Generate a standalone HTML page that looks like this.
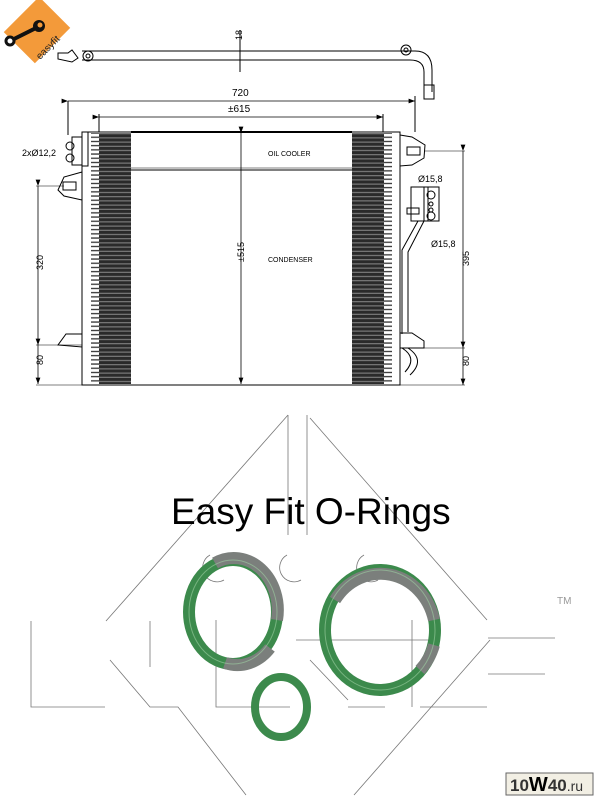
<!DOCTYPE html>
<html><head><meta charset="utf-8"><style>
html,body{margin:0;padding:0;background:#fff;width:600px;height:797px;overflow:hidden}
svg{display:block}
text{font-family:"Liberation Sans",sans-serif}
</style></head><body>
<svg width="600" height="797" viewBox="0 0 600 797" xmlns="http://www.w3.org/2000/svg">
<defs>
<pattern id="fin" width="6" height="4.2" patternUnits="userSpaceOnUse">
<rect width="6" height="4.2" fill="#2a2a2a"/><rect y="3" width="6" height="1" fill="#8a8a8a"/>
</pattern>
<pattern id="teeth" width="8" height="4.2" patternUnits="userSpaceOnUse">
<rect x="0" y="2.2" width="8" height="1.3" fill="#333"/>
</pattern>
<marker id="ar" markerWidth="8" markerHeight="6" refX="8" refY="3" orient="auto"><path d="M0,0 L8,3 L0,6 z" fill="#000"/></marker>
</defs>
<g stroke="#000" fill="none" stroke-width="1">
<g transform="translate(37,30) rotate(-45)"><rect x="-25" y="-22" width="50" height="44" fill="#f39a3a" stroke="none"/></g>
<g stroke="#111" stroke-width="4" stroke-linecap="round"><line x1="12" y1="40" x2="36" y2="28"/></g>
<circle cx="10" cy="41" r="4" fill="#fff" stroke="#111" stroke-width="3"/>
<circle cx="39" cy="26" r="6" fill="#111" stroke="none"/><circle cx="40" cy="25" r="2.5" fill="#f39a3a" stroke="none"/>
<text x="40" y="60" transform="rotate(-45 40 60)" font-size="10" fill="#222" stroke="none">easyfit</text>
<line x1="82" y1="51" x2="415" y2="51"/><line x1="82" y1="60" x2="410" y2="60"/>
<path d="M415,51 Q432,51 432,70 L432,92 M410,60 Q424,60 424,72 L424,92"/>
<rect x="424" y="85" width="10" height="14"/>
<path d="M58,53 L68,53 L72,50 L78,58 L72,62 L58,59 z"/>
<circle cx="88" cy="56" r="5"/><circle cx="88" cy="56" r="2"/>
<circle cx="406" cy="50" r="5"/><circle cx="406" cy="50" r="2"/>
<line x1="240" y1="30" x2="240" y2="72"/>
<text x="238" y="44" font-size="9" fill="#000" stroke="none" transform="rotate(-90 238 40)">18</text>
<line x1="68" y1="101" x2="68" y2="135"/><line x1="68" y1="101" x2="415" y2="101" marker-start="url(#ar)" marker-end="url(#ar)" stroke-width=".8"/>
<line x1="415" y1="96" x2="415" y2="132"/>
<text x="232" y="96" font-size="10" fill="#000" stroke="none">720</text>
<line x1="99" y1="117" x2="383" y2="117" marker-start="url(#ar)" marker-end="url(#ar)" stroke-width=".8"/>
<line x1="99" y1="114" x2="99" y2="132"/><line x1="383" y1="114" x2="383" y2="132"/>
<text x="228" y="112" font-size="10" fill="#000" stroke="none">±615</text>
<rect x="82" y="132" width="318" height="253"/>
<rect x="99" y="133" width="32" height="251" fill="url(#fin)" stroke="none"/>
<rect x="352" y="133" width="32" height="251" fill="url(#fin)" stroke="none"/>
<rect x="91" y="133" width="8" height="251" fill="url(#teeth)" stroke="none"/>
<rect x="384" y="133" width="8" height="251" fill="url(#teeth)" stroke="none"/>
<line x1="131" y1="170" x2="352" y2="170"/><line x1="131" y1="168" x2="352" y2="168" stroke-width=".5"/>
<line x1="131" y1="132" x2="352" y2="132" stroke-width="2"/>
<text x="268" y="156" font-size="7" fill="#000" stroke="none">OIL COOLER</text>
<text x="268" y="262" font-size="7" fill="#000" stroke="none">CONDENSER</text>
<line x1="241" y1="133" x2="241" y2="384" marker-start="url(#ar)" marker-end="url(#ar)" stroke-width=".8"/>
<text x="238" y="268" font-size="9" fill="#000" stroke="none" transform="rotate(-90 238 262)">±515</text>
<rect x="72" y="137" width="10" height="28"/><rect x="82" y="132" width="6" height="34"/>
<circle cx="70" cy="146" r="4"/><circle cx="70" cy="158" r="4"/>
<text x="22" y="156" font-size="9" fill="#000" stroke="none">2xØ12,2</text>
<path d="M82,172 L64,177 L58,190 L64,196 L82,200 z"/><rect x="63" y="182" width="13" height="8"/>
<path d="M82,334 L66,334 L58,345 L82,347 z"/>
<line x1="38" y1="186" x2="38" y2="345" marker-start="url(#ar)" marker-end="url(#ar)" stroke-width=".8"/>
<line x1="38" y1="345" x2="38" y2="384" marker-end="url(#ar)" stroke-width=".8"/>
<line x1="36" y1="186" x2="64" y2="186" stroke-width=".6"/><line x1="36" y1="345" x2="82" y2="345" stroke-width=".6"/><line x1="36" y1="385" x2="82" y2="385" stroke-width=".6"/>
<text x="38" y="275" font-size="9" fill="#000" stroke="none" transform="rotate(-90 38 270)">320</text>
<text x="38" y="370" font-size="9" fill="#000" stroke="none" transform="rotate(-90 38 365)">80</text>
<path d="M400,135 L412,137 L425,145 L424,158 L412,165 L400,166 z"/><rect x="407" y="147" width="13" height="8"/>
<rect x="411" y="187" width="17" height="34"/><rect x="424" y="187" width="15" height="34"/>
<circle cx="431" cy="195" r="4"/><circle cx="431" cy="216" r="4"/><circle cx="431" cy="204" r="2"/><circle cx="431" cy="210" r="2"/>
<rect x="407" y="208" width="12" height="6"/>
<text x="418" y="182" font-size="9" fill="#000" stroke="none">Ø15,8</text>
<text x="431" y="247" font-size="9" fill="#000" stroke="none">Ø15,8</text>
<path d="M424,221 L408,252 L408,332 M418,221 L402,250 L402,334"/>
<path d="M400,333 L412,333 L424,341 L424,348 L400,348 z"/>
<path d="M402,348 Q418,358 405,372 M408,348 Q426,360 410,375"/>
<line x1="424" y1="151" x2="465" y2="151" stroke-width=".6"/><line x1="424" y1="348" x2="465" y2="348" stroke-width=".6"/><line x1="400" y1="385" x2="465" y2="385" stroke-width=".6"/>
<line x1="463" y1="151" x2="463" y2="348" marker-start="url(#ar)" marker-end="url(#ar)" stroke-width=".8"/>
<line x1="463" y1="348" x2="463" y2="385" marker-end="url(#ar)" stroke-width=".8"/>
<text x="463" y="272" font-size="9" fill="#000" stroke="none" transform="rotate(-90 463 266)">395</text>
<text x="463" y="372" font-size="9" fill="#000" stroke="none" transform="rotate(-90 463 366)">80</text>
</g>
<g stroke="#777" fill="none" stroke-width=".8">
<line x1="288" y1="415" x2="106" y2="621"/><line x1="288" y1="415" x2="288" y2="535"/><line x1="307" y1="415" x2="307" y2="535"/>
<line x1="310" y1="418" x2="487" y2="620"/>
<path d="M31,621 L31,707 L105,707"/><line x1="150" y1="621" x2="150" y2="667"/>
<path d="M110,660 L150,707 L178,707 L246,795"/>
<line x1="354" y1="795" x2="490" y2="640"/>
<path d="M216,620 L216,707 L290,707"/><line x1="296" y1="640" x2="430" y2="640"/>
<line x1="310" y1="660" x2="348" y2="700"/>
<path d="M348,707 L385,707 M412,620 L412,707 M420,707 L487,707"/>
<line x1="488" y1="638" x2="555" y2="638"/><line x1="488" y1="674" x2="545" y2="674"/>
<path d="M210,555 A14,14 0 0,0 224,580 M287,555 A14,14 0 0,0 301,580 M364,555 A14,14 0 0,0 378,580"/>
</g>
<text x="557" y="604" font-size="10" fill="#999">TM</text>
<text x="171" y="524" font-size="37" fill="#000">Easy Fit O-Rings</text>
<g fill="none">
<ellipse cx="233" cy="612" rx="44" ry="52" stroke="#3c8a4c" stroke-width="12"/>
<path d="M215,563 A44,52 0 0,1 277,620" stroke="#7b7f7c" stroke-width="12"/>
<path d="M270,648 A44,52 0 0,1 225,663" stroke="#7b7f7c" stroke-width="12"/>
<ellipse cx="380" cy="630" rx="55" ry="60" stroke="#3c8a4c" stroke-width="12"/>
<path d="M335,600 A55,60 0 0,1 434,620" stroke="#7b7f7c" stroke-width="12"/>
<path d="M434,645 A55,60 0 0,1 420,670" stroke="#7b7f7c" stroke-width="12"/>
<ellipse cx="281" cy="707" rx="26" ry="30" stroke="#3c8a4c" stroke-width="8"/>
<ellipse cx="233" cy="612" rx="44" ry="52" stroke="#9ed0a4" stroke-width="1" opacity=".6"/>
<ellipse cx="380" cy="630" rx="55" ry="60" stroke="#9ed0a4" stroke-width="1" opacity=".6"/>
</g>
<rect x="506" y="773" width="87" height="22" fill="#f2efe4" stroke="#666"/>
<text x="510" y="791" font-size="17" fill="#333" font-weight="bold">10<tspan fill="#000" font-size="20">W</tspan>40<tspan font-size="14" font-weight="normal">.ru</tspan></text>
</svg>
</body></html>
